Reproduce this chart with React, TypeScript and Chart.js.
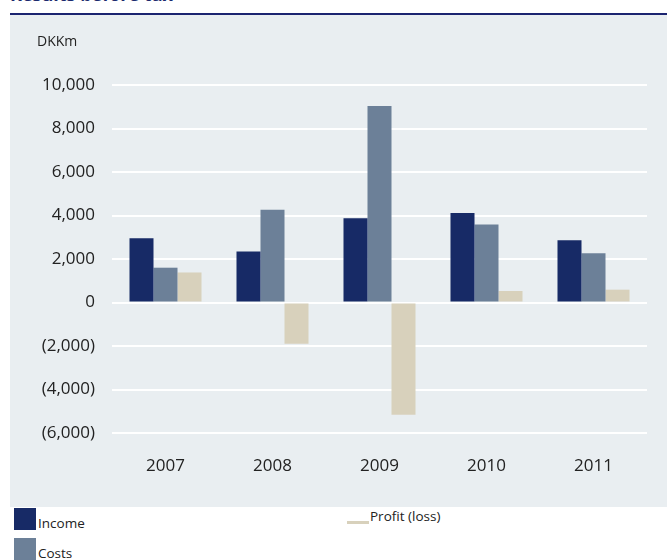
import React, { useEffect, useRef } from "react";
import { Chart, registerables } from "chart.js";

Chart.register(...registerables);

const years = ["2007", "2008", "2009", "2010", "2011"];
const income = [2950, 2340, 3870, 4120, 2860];
const costs = [1600, 4270, 9030, 3590, 2260];
const profit = [1380, -1900, -5160, 530, 590];
const yMin = -6000;
const yMax = 10000;
const yStep = 2000;

const NAVY = "#172A66";
const SLATE = "#6C8098";
const SAND = "#D8D1BC";
const PANEL = "#E9EEF1";
const FONT = "'Open Sans', 'Noto Sans', sans-serif";

function fmt(v: number): string {
  const s = String(Math.abs(Math.round(v))).replace(/\B(?=(\d{3})+(?!\d))/g, ",");
  return v < 0 ? `(${s})` : s;
}

export default function App() {
  const ref = useRef<HTMLCanvasElement | null>(null);

  useEffect(() => {
    if (!ref.current) return;
    const chart = new Chart(ref.current, {
      type: "bar",
      data: {
        labels: years,
        datasets: [
          { label: "Income", data: income, backgroundColor: NAVY, categoryPercentage: 0.673, barPercentage: 1 },
          { label: "Costs", data: costs, backgroundColor: SLATE, categoryPercentage: 0.673, barPercentage: 1 },
          { label: "Profit (loss)", data: profit, backgroundColor: SAND, categoryPercentage: 0.673, barPercentage: 1 },
        ],
      },
      options: {
        responsive: false,
        animation: false,
        layout: { padding: { left: 0, right: 20, top: 70, bottom: 7.6 } },
        plugins: { legend: { display: false }, tooltip: { enabled: false } },
        scales: {
          x: {
            grid: { display: false, drawTicks: false },
            border: { display: false },
            ticks: { padding: 23, color: "#222", font: { family: FONT, size: 17 } },
          },
          y: {
            min: yMin,
            max: yMax,
            grid: { color: "#ffffff", lineWidth: 2, drawTicks: false },
            border: { display: false },
            ticks: {
              stepSize: yStep,
              padding: 17,
              color: "#222",
              font: { family: FONT, size: 17 },
              callback: (v: any) => fmt(Number(v)),
            },
            afterFit: (s: any) => {
              s.width = 102;
            },
          },
        },
      },
    } as any);
    return () => chart.destroy();
  }, []);

  const textBase: React.CSSProperties = {
    position: "absolute",
    fontFamily: FONT,
    whiteSpace: "nowrap",
    color: "#222",
  };

  return (
    <div style={{ position: "absolute", left: 0, top: 0, width: 667, height: 560, overflow: "hidden", background: "#fff" }}>
      <div style={{ ...textBase, left: 10, top: -15, fontSize: 18, lineHeight: "18px", fontWeight: 700, color: "#1B2A6E" }}>
        Results before tax
      </div>
      <div style={{ position: "absolute", left: 10, top: 13, width: 657, height: 2, background: "#1B2470" }} />
      <div style={{ position: "absolute", left: 10, top: 15, width: 657, height: 492, background: PANEL }}>
        <canvas ref={ref} width={657} height={492} style={{ width: 657, height: 492, display: "block" }} />
      </div>
      <div style={{ ...textBase, left: 37, top: 34.3, fontSize: 14, lineHeight: "14px" }}>DKKm</div>

      <div style={{ position: "absolute", left: 14, top: 508, width: 22, height: 22, background: NAVY }} />
      <div style={{ ...textBase, left: 38, top: 517.3, fontSize: 13.5, lineHeight: "13.5px" }}>Income</div>
      <div style={{ position: "absolute", left: 14, top: 538, width: 22, height: 22, background: SLATE }} />
      <div style={{ ...textBase, left: 38, top: 547.3, fontSize: 13.5, lineHeight: "13.5px" }}>Costs</div>

      <div style={{ position: "absolute", left: 347, top: 521, width: 22, height: 3, background: SAND }} />
      <div style={{ ...textBase, left: 370, top: 510.3, fontSize: 13.5, lineHeight: "13.5px" }}>Profit (loss)</div>
    </div>
  );
}
